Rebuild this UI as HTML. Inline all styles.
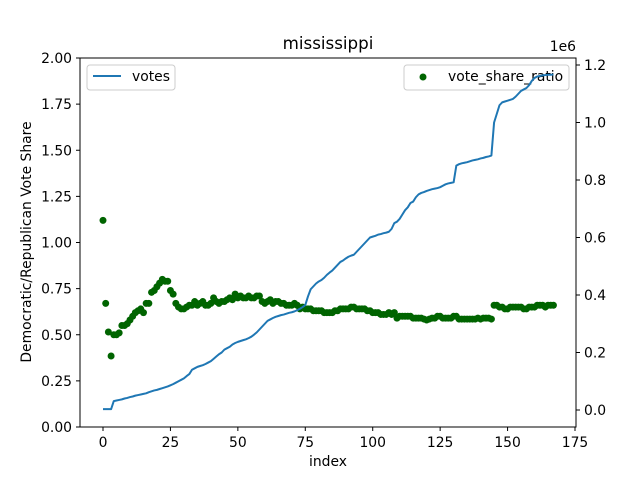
<!DOCTYPE html>
<html><head><meta charset="utf-8"><style>
body{margin:0;background:#fff;}
svg text{font-family:"DejaVu Sans","Liberation Sans",sans-serif;fill:#000;}
</style></head><body>
<svg id="chart" width="640" height="480" viewBox="0 0 640 480">
<rect width="640" height="480" fill="#fff"/>
<text x="328" y="49" font-size="16.7" text-anchor="middle">mississippi</text>
<g>
<rect x="404" y="65" width="165" height="25" rx="3" fill="#fff" fill-opacity="0.8" stroke="#ccc"/>
<circle cx="423" cy="77" r="3.5" fill="#006400"/>
<text x="448" y="81" font-size="13.9">vote_share_ratio</text>
</g>
<g id="marks"></g>
<rect x="80" y="58" width="496" height="369" fill="none" stroke="#000" stroke-width="1"/>
<g id="axes"></g>
<text x="328" y="466" font-size="13.9" text-anchor="middle">index</text>
<text transform="translate(31,242) rotate(-90)" font-size="13.9" text-anchor="middle">Democratic/Republican Vote Share</text>
<text x="576" y="51" font-size="13.9" text-anchor="end">1e6</text>
<g>
<rect x="87" y="65" width="88" height="25" rx="3" fill="#fff" fill-opacity="0.8" stroke="#ccc"/>
<line x1="93" y1="76" x2="121" y2="76" stroke="#1f77b4" stroke-width="2"/>
<text x="132" y="81" font-size="13.9">votes</text>
</g>
</svg>
<script>
const votes=[0.003,0.003,0.003,0.003,
0.031,0.033,0.035,0.037,0.040,0.042,0.045,
0.047,0.050,0.052,0.054,0.056,0.058,0.062,0.065,0.068,0.070,
0.073,0.076,0.079,0.082,0.086,0.090,0.095,0.100,0.105,0.110,
0.118,0.125,0.140,0.145,0.150,0.153,0.156,0.160,0.165,0.170,
0.178,0.186,0.194,0.200,0.210,0.215,0.220,0.228,0.233,0.237,
0.240,0.243,0.246,0.250,0.255,0.262,0.270,0.280,0.290,0.300,
0.310,0.315,0.320,0.324,0.327,0.330,0.332,0.335,0.338,0.340,
0.343,0.347,0.352,0.358,0.365,0.395,0.420,0.430,0.440,0.447,
0.452,0.460,0.470,0.478,0.485,0.495,0.505,0.515,0.520,0.527,
0.533,0.537,0.540,0.550,0.560,0.570,0.580,0.590,0.600,0.603,
0.606,0.610,0.612,0.615,0.617,0.620,0.630,0.650,0.655,0.665,
0.680,0.695,0.705,0.720,0.725,0.740,0.750,0.755,0.758,0.762,
0.765,0.768,0.770,0.772,0.775,0.780,0.785,0.788,0.790,0.792,
0.850,0.855,0.858,0.860,0.862,0.865,0.868,0.870,0.872,0.875,
0.877,0.880,0.882,0.885,1.000,1.030,1.060,1.070,1.073,1.076,
1.079,1.082,1.090,1.100,1.110,1.115,1.120,1.130,1.145,1.155,
1.160,1.162,1.164,1.165,1.166,1.166,1.167];
const ratio=[1.12,0.67,0.515,0.385,0.50,0.50,0.51,0.55,0.55,0.56,0.58,
0.60,0.62,0.63,0.64,0.62,0.67,0.67,0.73,0.74,0.76,
0.78,0.80,0.79,0.79,0.74,0.72,0.67,0.65,0.64,0.64,
0.65,0.66,0.66,0.68,0.66,0.67,0.68,0.66,0.66,0.67,
0.70,0.68,0.67,0.68,0.68,0.69,0.70,0.69,0.72,0.70,
0.71,0.70,0.70,0.71,0.70,0.70,0.71,0.71,0.68,0.67,
0.68,0.69,0.67,0.68,0.68,0.67,0.67,0.66,0.66,0.66,
0.67,0.66,0.64,0.65,0.64,0.64,0.64,0.63,0.63,0.63,
0.63,0.62,0.62,0.62,0.62,0.63,0.63,0.64,0.64,0.64,
0.64,0.65,0.65,0.64,0.64,0.64,0.64,0.63,0.63,0.62,
0.62,0.62,0.61,0.61,0.61,0.62,0.61,0.62,0.59,0.60,
0.60,0.60,0.60,0.60,0.59,0.59,0.59,0.59,0.585,0.58,
0.585,0.59,0.59,0.60,0.60,0.59,0.59,0.59,0.59,0.60,
0.60,0.585,0.585,0.585,0.585,0.585,0.585,0.585,0.59,0.585,
0.59,0.59,0.59,0.585,
0.66,0.66,0.65,0.65,0.64,0.64,0.65,0.65,0.65,0.65,0.65,
0.64,0.64,0.65,0.65,0.65,0.66,0.66,0.66,0.65,0.66,0.66,0.66];
const xTicks=[0,25,50,75,100,125,150,175];
const yLeftTicks=["0.00","0.25","0.50","0.75","1.00","1.25","1.50","1.75","2.00"];
const yRightTicks=["0.0","0.2","0.4","0.6","0.8","1.0","1.2"];

const NS="http://www.w3.org/2000/svg";
const xs=v=>103+v*(472/175);
const yl=v=>427-v*184.5;
const yr=v=>410-v*287.5;
function mk(tag,attrs,parent){const e=document.createElementNS(NS,tag);for(const k in attrs)e.setAttribute(k,attrs[k]);parent.appendChild(e);return e;}
const marks=document.getElementById('marks');
const axes=document.getElementById('axes');

ratio.forEach((r,i)=>{
  const c=mk('circle',{cx:xs(i),cy:yl(r),r:3.5,fill:'#006400'},marks);
  
  
});
const line=mk('polyline',{points:votes.map((v,i)=>xs(i)+','+yr(v)).join(' '),fill:'none',stroke:'#1f77b4','stroke-width':2,'stroke-linejoin':'round'},marks);



xTicks.forEach(t=>{
  const x=xs(t);
  mk('line',{x1:x,y1:427,x2:x,y2:431,stroke:'#000'},axes);
  const tx=mk('text',{x:x,y:447,'font-size':13.9,'text-anchor':'middle'},axes);
  tx.textContent=t;
  
  
});
yLeftTicks.forEach(t=>{
  const y=yl(parseFloat(t));
  mk('line',{x1:76,y1:y,x2:80,y2:y,stroke:'#000'},axes);
  const tx=mk('text',{x:72,y:y+5,'font-size':13.9,'text-anchor':'end'},axes);
  tx.textContent=t;
  
  
});
yRightTicks.forEach(t=>{
  const y=yr(parseFloat(t));
  mk('line',{x1:576,y1:y,x2:580,y2:y,stroke:'#000'},axes);
  const tx=mk('text',{x:584,y:y+5,'font-size':13.9,'text-anchor':'start'},axes);
  tx.textContent=t;
  
  
});
</script>
</body></html>
